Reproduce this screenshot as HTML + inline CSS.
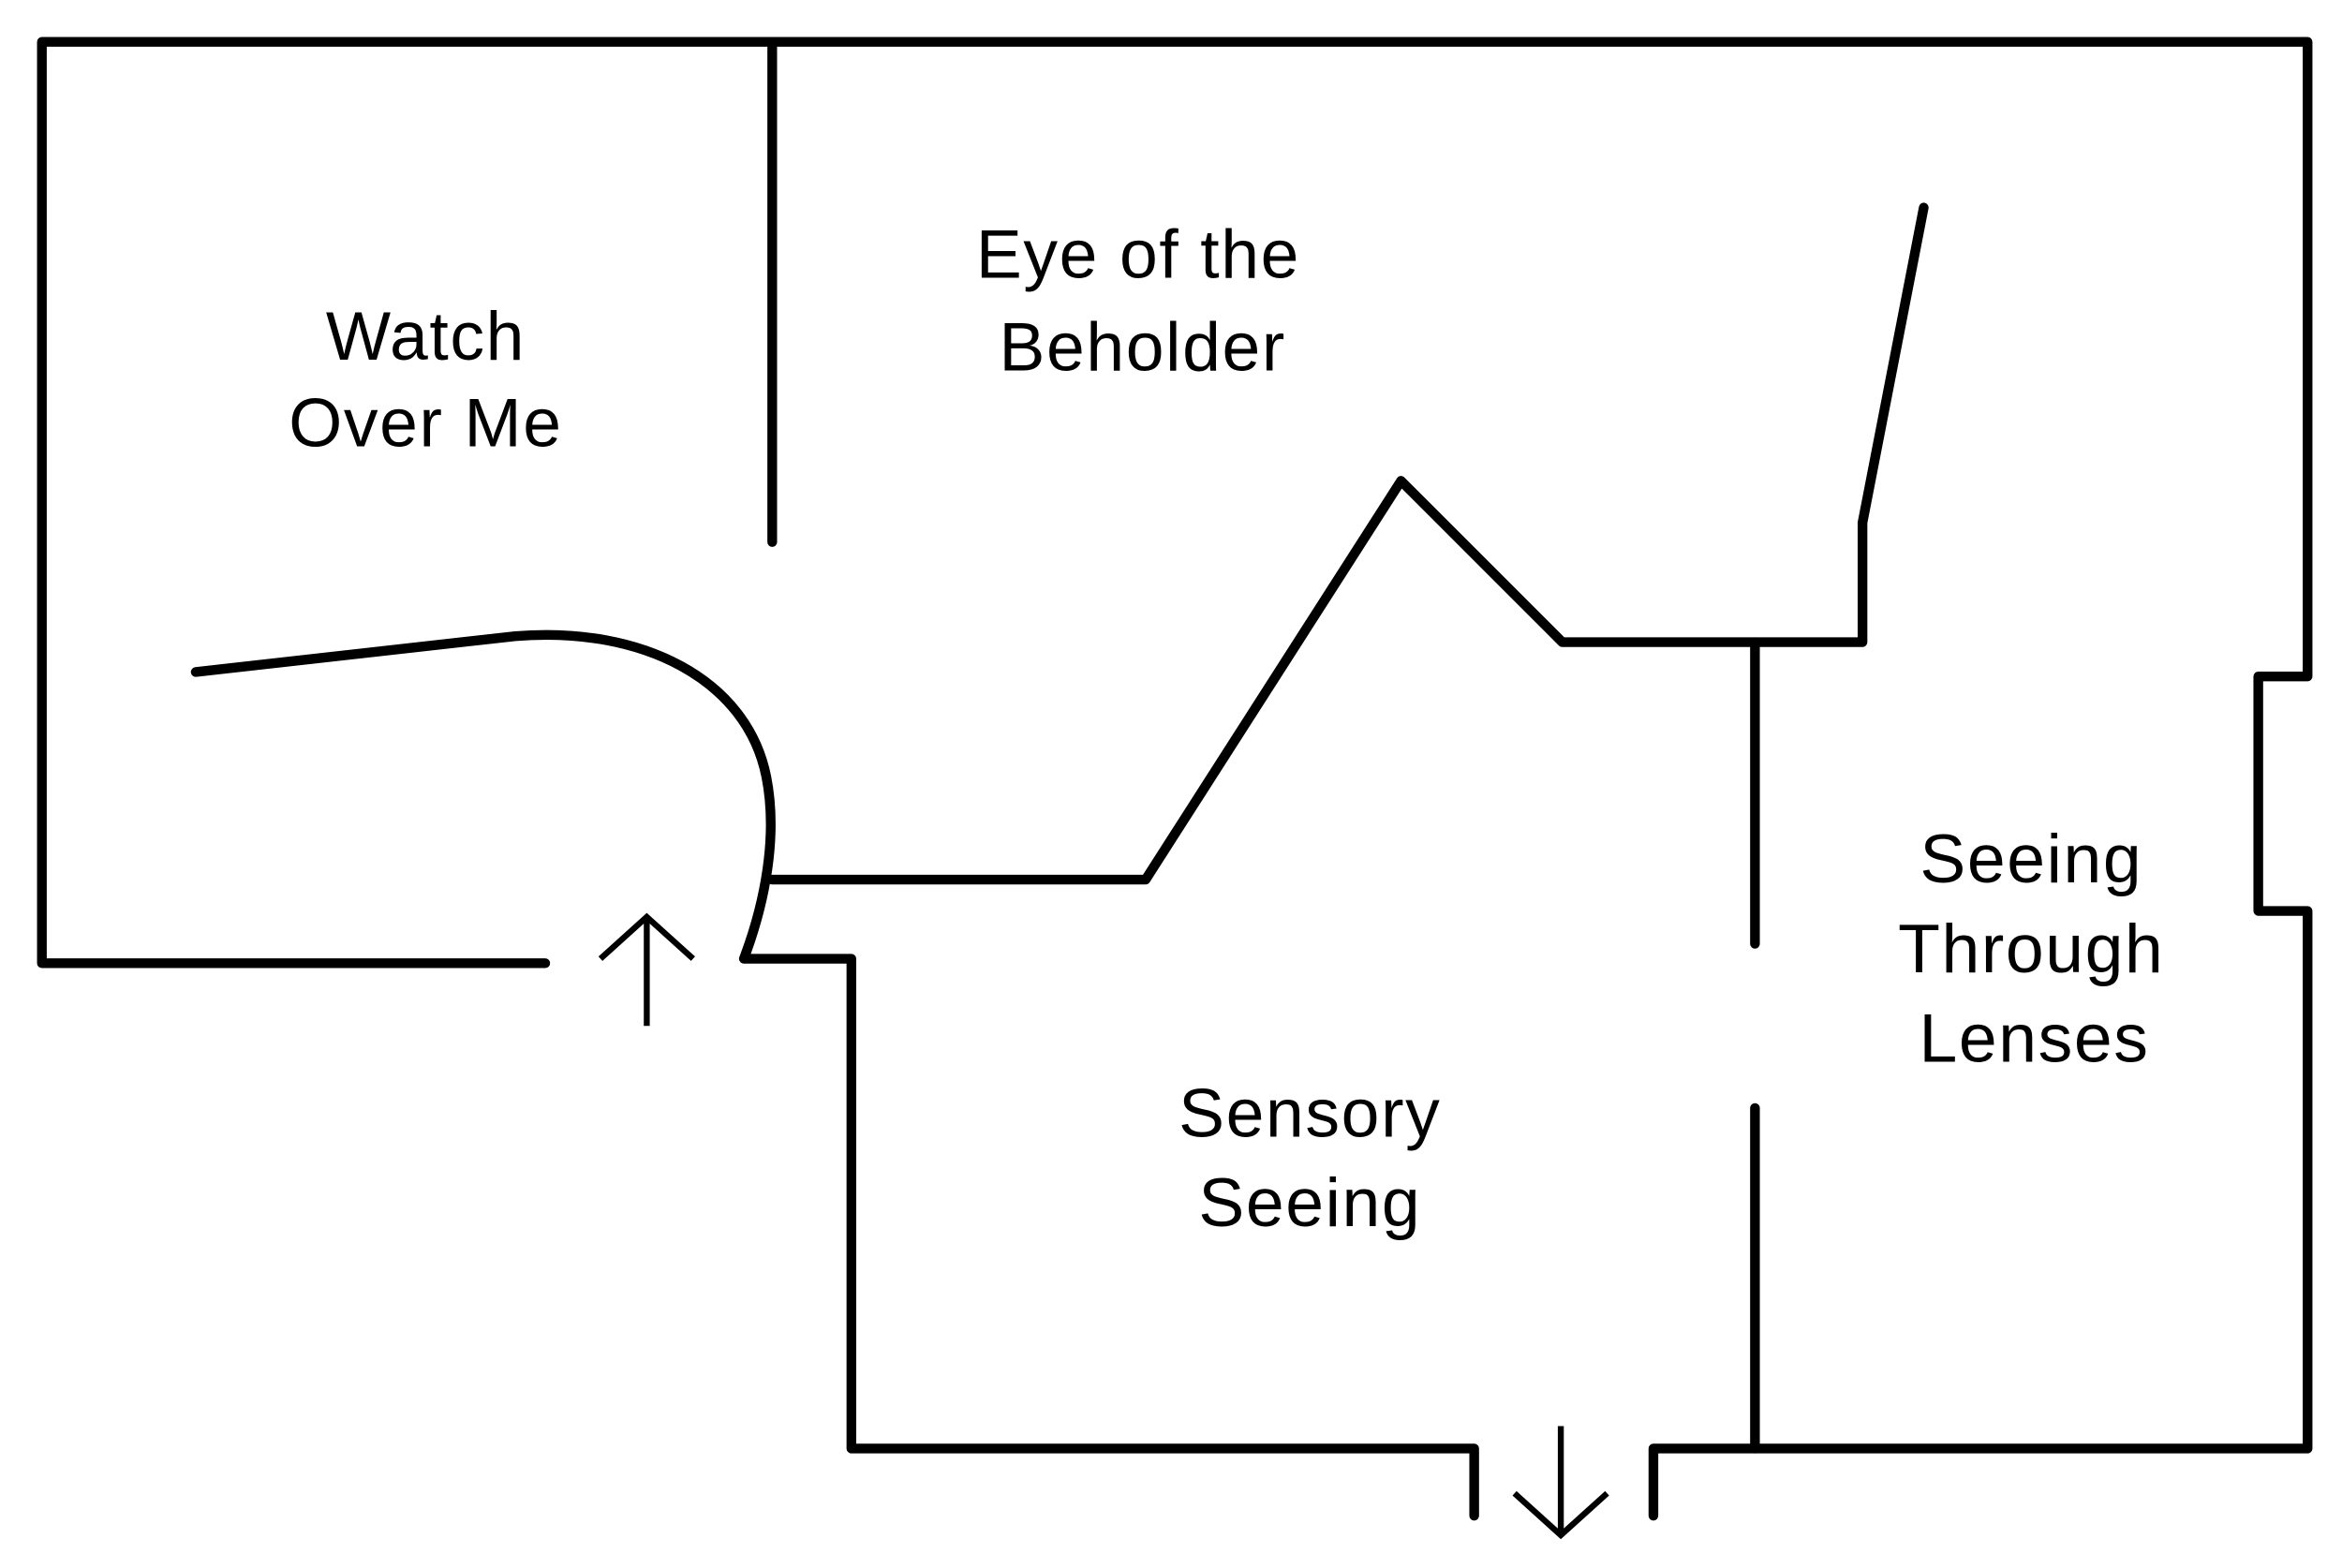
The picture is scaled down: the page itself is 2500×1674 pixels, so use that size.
<!DOCTYPE html>
<html><head><meta charset="utf-8"><style>
html,body{margin:0;padding:0;background:#fff;}
svg{display:block;}
text{font-family:"Liberation Sans","DejaVu Sans",sans-serif;font-size:46px;fill:#000;text-anchor:middle;letter-spacing:1px;}
</style></head><body>
<svg width="2500" height="1674" viewBox="0 0 1568 1050" xmlns="http://www.w3.org/2000/svg">
<g fill="none" stroke="#000" stroke-width="6.5" stroke-linecap="round" stroke-linejoin="round">
<path d="M365 645 L28 645 L28 28 L1545 28 L1545 453 L1512 453 L1512 610 L1545 610 L1545 970 L1107 970 L1107 1015"/>
<path d="M517 28 L517 363"/>
<path d="M131 450 L345 426 C430 419 500 455 513 520 C521 560 512 605 498 642 L570 642 L570 970 L987 970 L987 1015"/>
<path d="M517 589 L767 589 L938 322 L1046 430 L1247 430 L1247 350 L1288 139"/>
<path d="M1175 430 L1175 632"/>
<path d="M1175 742 L1175 970"/>
</g>
<g fill="none" stroke="#000" stroke-width="4">
<path d="M433 687 L433 615"/>
<path d="M402 642 L433 614 L464 642"/>
<path d="M1045 955 L1045 1027"/>
<path d="M1014 1000 L1045 1028 L1076 1000"/>
</g>
<text x="285" y="241">Watch</text>
<text x="285" y="299">Over Me</text>
<text x="762" y="186">Eye of the</text>
<text x="765" y="248">Beholder</text>
<text x="877" y="761">Sensory</text>
<text x="877" y="821">Seeing</text>
<text x="1360" y="591">Seeing</text>
<text x="1360" y="651">Through</text>
<text x="1362" y="711">Lenses</text>
</svg>
</body></html>
